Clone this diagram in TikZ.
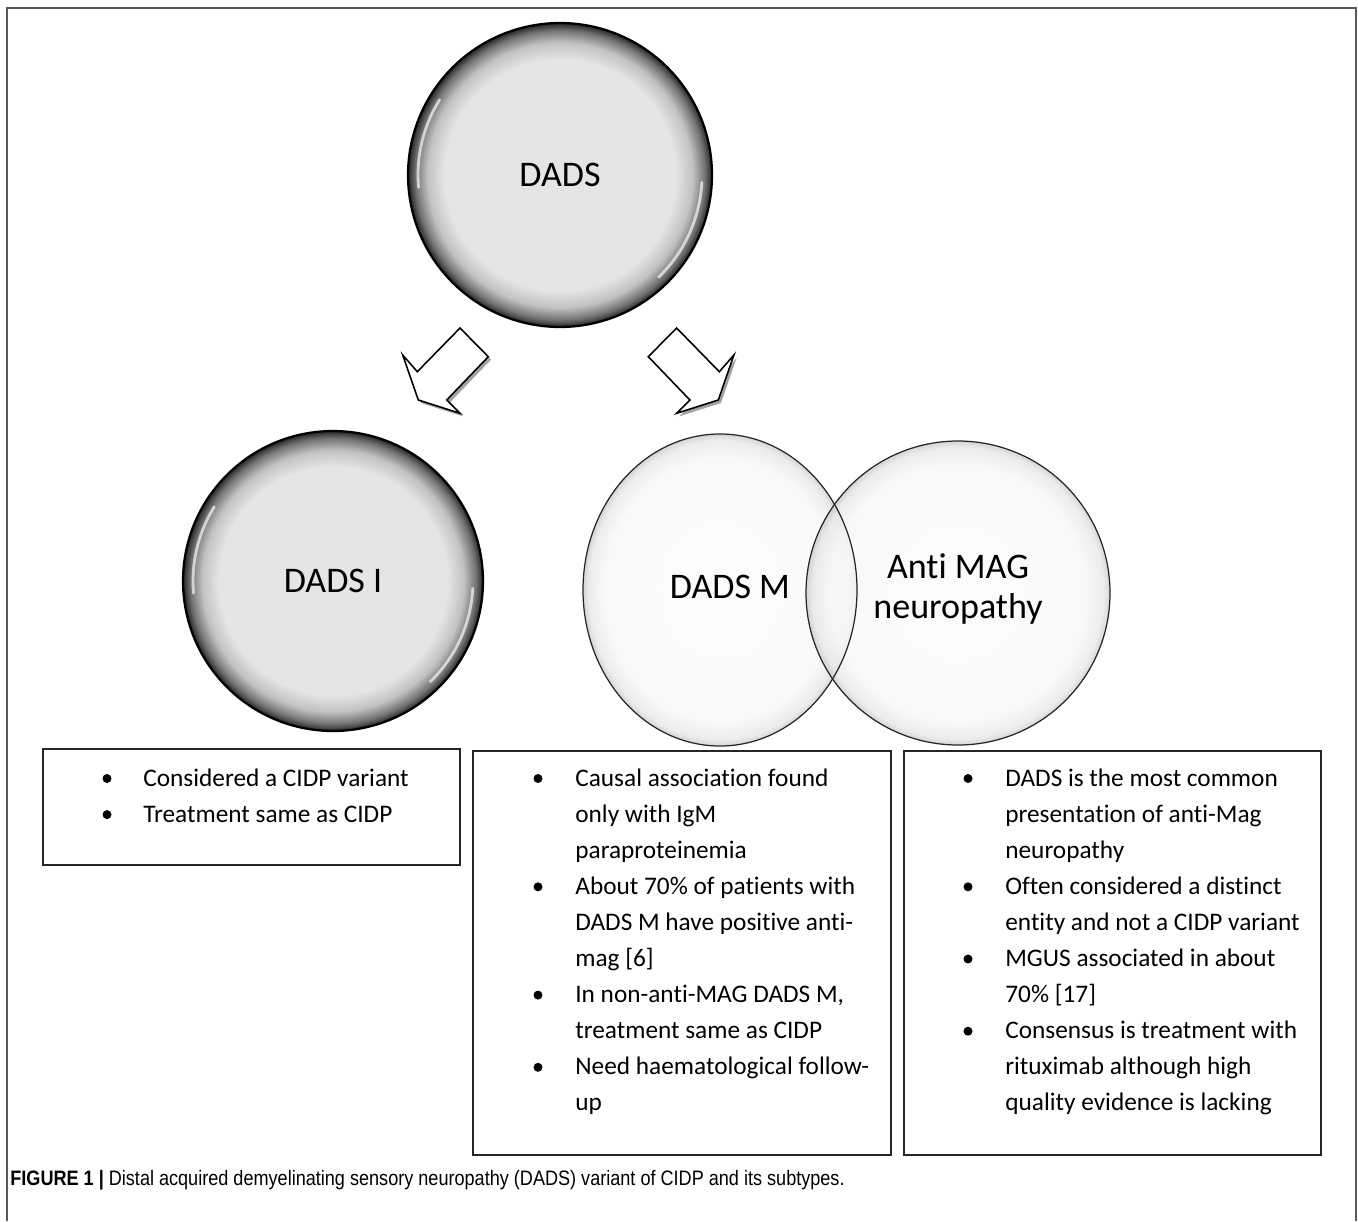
\documentclass[tikz,border=0pt]{standalone}
\usepackage{fontspec}
\setmainfont{Carlito}[Ligatures={NoCommon}, RawFeature={-liga;-clig;-dlig}]
\newfontfamily\captionfont[FakeStretch=0.865]{Liberation Sans}
\usetikzlibrary{shapes.geometric}

% bevelled grey ball and light glass ball
\pgfdeclareradialshading{bevelball}{\pgfpointorigin}{%
  color(0bp)=(black!10); color(19bp)=(black!10); color(21.8bp)=(black!24);
  color(23.8bp)=(black!55); color(25bp)=(black!85); color(50bp)=(black!85)}
\pgfdeclareradialshading{glassball}{\pgfpointorigin}{%
  color(0bp)=(black!2); color(21bp)=(black!3); color(24bp)=(black!10);
  color(25bp)=(black!22); color(50bp)=(black!22)}

\tikzset{
  ball/.style={circle, draw=black, line width=1.3pt, shading=bevelball, inner sep=0pt,
    font=\fontsize{20.5}{23.2}\selectfont},
  lens/.style={ellipse, shading=glassball, fill opacity=0.75, inner sep=0pt},
  lensline/.style={draw=black!85, line width=0.7pt},
  balltext/.style={font=\fontsize{20.5}{23.2}\selectfont, align=center},
  shine/.style={white, line width=1.6pt, line cap=round, opacity=0.65},
  blockarrow/.style={draw=black, line width=0.9pt, fill=white},
  arrowshadow/.style={fill=black!45, opacity=0.8},
  notebox/.style={draw=black!85, line width=0.85pt},
  notetext/.style={anchor=base west, inner sep=0pt, font=\fontsize{14.4}{17}\selectfont},
}

\begin{document}
\begin{tikzpicture}[x=0.02cm, y=-0.02cm]
	\useasboundingbox (0,0) rectangle (1358,1221);

	% outer frame, open at the bottom
	\draw[black!65, line width=1.1pt] (7,1221) -- (7,8) -- (1356,8) -- (1356,1221);

	% shaded balls
	\node[ball, minimum size=6.08cm] (dads) at (560,175) {DADS};
	\node[ball, minimum size=6cm] (dadsI) at (333,581) {DADS I};
	\foreach \n/\r in {dads/142, dadsI/140} {
			\draw[shine] ([shift={(175:\r)}]\n.center) arc[start angle=175, end angle=212, radius=\r];
			\draw[shine] ([shift={(3:\r)}]\n.center) arc[start angle=3, end angle=46, radius=\r];
		}

	% overlapping pair
	\node[lens, minimum width=5.48cm, minimum height=6.24cm] (dadsM) at (720,590) {};
	\node[lens, minimum width=6.08cm, minimum height=6.08cm] (antiMAG) at (958,593) {};
	\draw[lensline] (dadsM.center) ellipse[x radius=137, y radius=156];
	\draw[lensline] (antiMAG.center) ellipse[x radius=152, y radius=152];
	\node[balltext] (dadsMlabel) at (730,587) {DADS M};
	\node[balltext] (antiMAGlabel) at (958,589) {Anti MAG\\neuropathy};

	% block arrows with shadow
	\foreach \s in {1,-1} {
			\fill[arrowshadow, shift={(571,3)}, xscale=\s] (-108.3,328) -- (-80,356.7) -- (-121.6,400) -- (-108.3,413.3)
				-- (-150,400) -- (-165.6,355) -- (-151,371.7) -- cycle;
			\draw[blockarrow, shift={(568.3,0)}, xscale=\s] (-108.3,328) -- (-80,356.7) -- (-121.6,400) -- (-108.3,413.3)
				-- (-150,400) -- (-165.6,355) -- (-151,371.7) -- cycle;
		}

	% note boxes
	\draw[notebox] (43,749) rectangle (460,865);
	\draw[notebox] (473,751) rectangle (891,1155);
	\draw[notebox] (904,751) rectangle (1321,1155);

	\foreach \x/\row in {107/0, 107/1, 538/0, 538/3, 538/6, 538/8, 968/0, 968/3, 968/5, 968/7}
		\fill (\x,778.5+36.1*\row) circle[radius=4.5];

	\foreach \row/\txt in {0/Considered a CIDP variant, 1/Treatment same as CIDP}
		\node[notetext] (noteI-\row) at (143,786+36.1*\row) {\txt};

	\foreach \row/\txt in {
			0/Causal association found,
			1/only with IgM,
			2/paraproteinemia,
			3/About 70\% of patients with,
			4/DADS M have positive anti-,
			5/mag [6],
			6/{In non-anti-MAG DADS M,},
			7/treatment same as CIDP,
			8/Need haematological follow-,
			9/up
		}
		\node[notetext] (noteM-\row) at (575,786+36.1*\row) {\txt};

	\foreach \row/\txt in {
			0/DADS is the most common,
			1/presentation of anti-Mag,
			2/neuropathy,
			3/Often considered a distinct,
			4/entity and not a CIDP variant,
			5/MGUS associated in about,
			6/70\% [17],
			7/Consensus is treatment with,
			8/rituximab although high,
			9/quality evidence is lacking
		}
		\node[notetext] (noteMAG-\row) at (1005,786+36.1*\row) {\txt};

	% caption
	\node[anchor=base west, inner sep=0pt, font=\captionfont\fontsize{11.9}{14}\selectfont] (caption) at (10,1185)
		{\textbf{FIGURE 1 |} Distal acquired demyelinating sensory neuropathy (DADS) variant of CIDP and its subtypes.};

\end{tikzpicture}
\end{document}
